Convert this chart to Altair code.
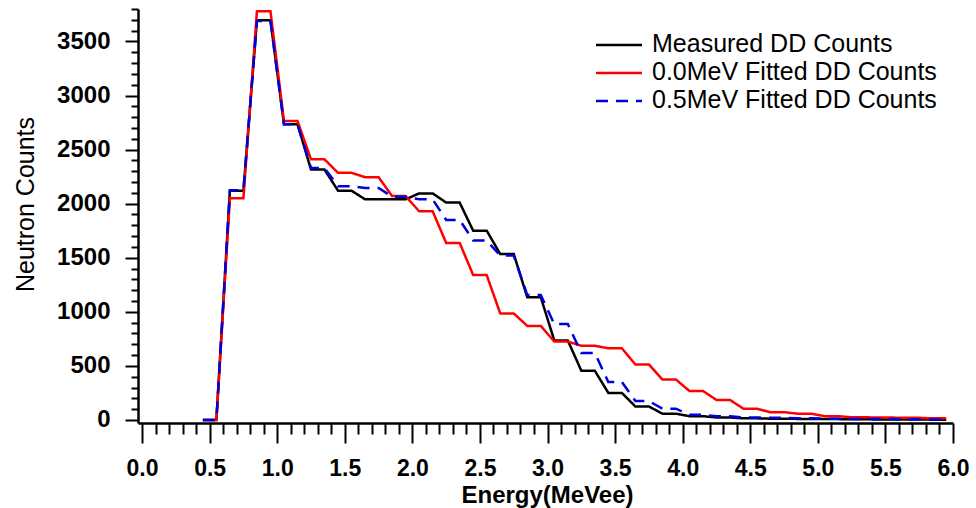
import altair as alt
import pandas as pd

# ---- data ----
centers = [0.5, 0.7, 0.9, 1.1, 1.3, 1.5, 1.7, 1.9, 2.1, 2.3, 2.5, 2.7, 2.9, 3.1,
           3.3, 3.5, 3.7, 3.9, 4.1, 4.3, 4.5, 4.7, 4.9, 5.1, 5.3, 5.5, 5.7, 5.9]
measured = [0, 2120, 3695, 2735, 2315, 2120, 2040, 2040, 2095, 2010, 1750, 1535, 1135, 735,
            455, 250, 125, 58, 35, 23, 15, 12, 10, 8, 6, 5, 4, 3]
fit_00 = [0, 2050, 3780, 2765, 2410, 2285, 2245, 2070, 1930, 1637, 1340, 985, 870, 725,
          686, 663, 513, 374, 268, 185, 104, 72, 58, 35, 25, 22, 20, 15]
fit_05 = [0, 2125, 3690, 2735, 2330, 2160, 2145, 2065, 2040, 1850, 1660, 1520, 1155, 887,
          620, 351, 175, 104, 48, 35, 23, 20, 15, 12, 10, 8, 6, 5]

series_names = ["Measured DD Counts", "0.0MeV Fitted DD Counts", "0.5MeV Fitted DD Counts"]
series_colors = ["#000000", "#ff0000", "#0000dd"]
series_dash = [[1, 0], [1, 0], [12, 8]]

x_ticks = [round(0.1 * i, 1) for i in range(61)]
y_ticks = list(range(0, 3801, 100))
half_bin = 0.05

rows = []
for name, vals in zip(series_names, [measured, fit_00, fit_05]):
    for i, (c, v) in enumerate(zip(centers, vals)):
        rows.append({"series": name, "energy": c - half_bin, "counts": v, "order": 2 * i})
        rows.append({"series": name, "energy": c + half_bin, "counts": v, "order": 2 * i + 1})
df = pd.DataFrame(rows)
legend_df = pd.DataFrame({"series": series_names})

FONT = "Liberation Sans"

color_enc = alt.Color("series:N", scale=alt.Scale(domain=series_names, range=series_colors),
                      legend=None)
dash_enc = alt.StrokeDash("series:N", scale=alt.Scale(domain=series_names, range=series_dash),
                          legend=None)

x_axis = alt.Axis(
    values=x_ticks,
    labelExpr="round(datum.value*10) % 5 == 0 ? format(datum.value, '.1f') : ''",
    tickSize={"condition": {"test": "round(datum.value*10) % 5 == 0", "value": 20}, "value": 11},
    tickWidth=2, tickColor="black", domainColor="black", domainWidth=2.5,
    labelFont=FONT, labelFontSize=23, labelFontWeight="bold", labelColor="black",
    labelPadding=14, labelFlush=False, labelOverlap=False, grid=False,
    title="Energy(MeVee)", titleFont=FONT, titleFontSize=24, titleFontWeight="bold",
    titleColor="black", titleX=409, titleY=79, titleBaseline="alphabetic", titleAnchor="start",
    titleAlign="center",
)

y_axis = alt.Axis(
    values=y_ticks,
    labelExpr="datum.value % 500 == 0 ? format(datum.value, 'd') : ''",
    tickSize={"condition": {"test": "datum.value % 500 == 0", "value": 13}, "value": 7},
    tickWidth=2, tickColor="black", domainColor="black", domainWidth=2.5,
    labelFont=FONT, labelFontSize=24, labelFontWeight="bold", labelColor="black",
    labelPadding=15, labelFlush=False, labelOverlap=False, grid=False,
    title="Neutron Counts", titleFont=FONT, titleFontSize=25, titleFontWeight="normal",
    titleColor="black", titleX=-105, titleY=195, titleBaseline="alphabetic", titleAngle=-90,
    titleAlign="center", titleAnchor="start",
)

lines = alt.Chart(df).mark_line(strokeWidth=2.5).encode(
    x=alt.X("energy:Q", scale=alt.Scale(domain=[-0.03, 6.0], nice=False, zero=False), axis=x_axis),
    y=alt.Y("counts:Q", scale=alt.Scale(domain=[-28, 3800], nice=False, zero=False), axis=y_axis),
    color=color_enc,
    strokeDash=dash_enc,
    order="order:Q",
)

# legend built from the series list, rows placed by a point scale
legend_y = alt.Y("series:N", axis=None,
                 scale=alt.Scale(type="point", domain=series_names, range=[36, 92], padding=0))

legend_lines = alt.Chart(legend_df).mark_rule(strokeWidth=2.5).encode(
    x=alt.value(458), x2=alt.value(504),
    y=legend_y,
    color=color_enc,
    strokeDash=dash_enc,
)

legend_text = alt.Chart(legend_df).mark_text(
    align="left", baseline="middle", font=FONT, fontSize=25, color="black", dy=-1
).encode(
    x=alt.value(514),
    y=legend_y,
    text="series:N",
)

chart = alt.layer(lines, legend_lines, legend_text).resolve_scale(
    y="independent"
).properties(
    width=815, height=414,
    autosize=alt.AutoSizeParams(type="none"),
    padding={"left": 138, "top": 9, "right": 23, "bottom": 85},
    background="white",
).configure_view(stroke=None)

chart.save("out.html", embed_options={"renderer": "svg", "actions": False})
